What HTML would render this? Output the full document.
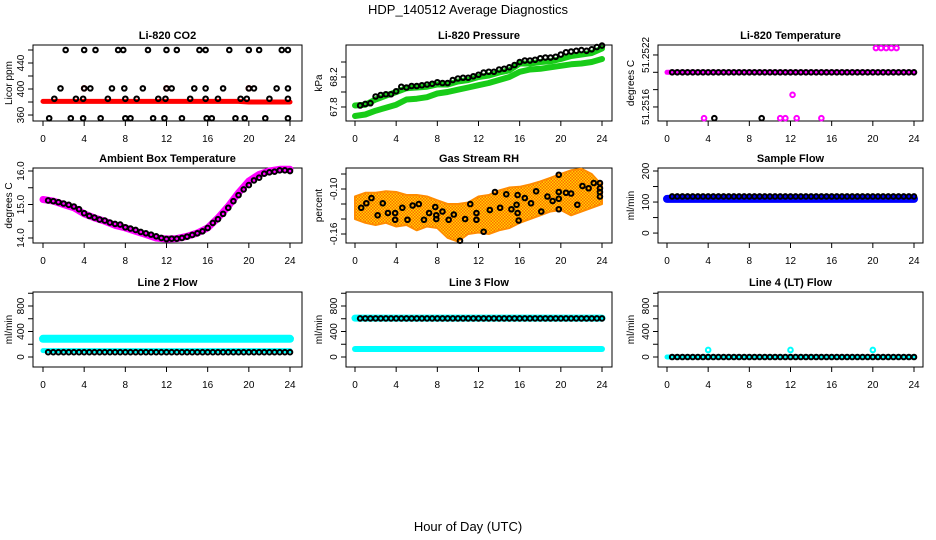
<!DOCTYPE html>
<html><head><meta charset="utf-8"><style>
html,body{margin:0;padding:0;background:#fff;}
svg{display:block;font-family:"Liberation Sans",sans-serif;}
</style></head><body>
<svg id="root" width="936" height="540" viewBox="0 0 936 540">
<defs>
<pattern id="rhpat" width="3" height="3" patternUnits="userSpaceOnUse">
<rect width="3" height="3" fill="#ffd400"/><rect width="1.5" height="1.5" fill="#ff6a00"/><rect x="1.5" y="1.5" width="1.5" height="1.5" fill="#ff6a00"/>
</pattern>
</defs>
<text x="468" y="14" text-anchor="middle" font-size="13">HDP_140512  Average Diagnostics</text>
<text x="468" y="531" text-anchor="middle" font-size="13">Hour of Day (UTC)</text>
</svg>
<script>
// ---------- data ----------
const xTicks = [0,4,8,12,16,20,24];
const halfHours = [0.5,1,1.5,2,2.5,3,3.5,4,4.5,5,5.5,6,6.5,7,7.5,8,8.5,9,9.5,10,10.5,11,11.5,12,12.5,13,13.5,14,14.5,15,15.5,16,16.5,17,17.5,18,18.5,19,19.5,20,20.5,21,21.5,22,22.5,23,23.5,24];
const hours = [0,1,2,3,4,5,6,7,8,9,10,11,12,13,14,15,16,17,18,19,20,21,22,23,24];

const co2Hours = [2.2,4,5.1,7.3,7.8,10.2,12,13,15.2,15.8,18.1,20,21,23.2,23.8, 1.7,4,4.6,6.7,7.9,9.7,12,12.5,14.7,15.8,17.5,20,20.5,22.7,23.8, 1.1,3.2,3.9,6.3,8,9.1,11.2,11.9,14.3,15.8,17,19.2,19.8,22,23.8, 0.6,2.7,3.9,5.6,8,8.5,10.7,11.8,13.5,15.9,16.4,18.7,19.6,21.6,23.8];
const co2Values = [460,460,460,460,460,460,460,460,460,460,460,460,460,460,460, 401,401,401,401,401,401,401,401,401,401,401,401,401,401,401, 385,385,385,385,385,385,385,385,385,385,385,385,385,385,385, 355,355,355,355,355,355,355,355,355,355,355,355,355,355,355];
const co2Red = [381,381,381,381,381,381,381,381,381,381,381,381,381,381,381,381,381,381,381,381,380,380,380,380,380];
const co2RedOutHours = [4,12,20];
const co2RedOutValues = [401,401,401];

const presBlack = [67.82,67.84,67.85,67.94,67.96,67.97,67.97,68.01,68.07,68.06,68.08,68.08,68.09,68.10,68.11,68.13,68.12,68.12,68.16,68.18,68.19,68.19,68.21,68.23,68.26,68.27,68.27,68.30,68.31,68.33,68.36,68.40,68.42,68.42,68.43,68.45,68.46,68.46,68.47,68.50,68.53,68.54,68.55,68.56,68.55,68.57,68.60,68.62];
const presGreenUpper = [67.82,67.83,67.90,67.95,68.00,68.05,68.06,68.07,68.10,68.10,68.14,68.16,68.20,68.22,68.26,68.29,68.38,68.38,68.40,68.41,68.44,68.48,68.50,68.52,68.58];
const presGreenLower = [67.68,67.70,67.75,67.79,67.83,67.90,67.91,67.93,67.98,68.00,68.03,68.06,68.09,68.12,68.16,68.20,68.27,68.30,68.31,68.33,68.35,68.37,68.38,68.40,68.44];

const tempBlack = [51.2520,51.2520,51.2520,51.2520,51.2520,51.2520,51.2520,51.2520,51.2520,51.2520,51.2520,51.2520,51.2520,51.2520,51.2520,51.2520,51.2520,51.2520,51.2520,51.2520,51.2520,51.2520,51.2520,51.2520,51.2520,51.2520,51.2520,51.2520,51.2520,51.2520,51.2520,51.2520,51.2520,51.2520,51.2520,51.2520,51.2520,51.2520,51.2520,51.2520,51.2520,51.2520,51.2520,51.2520,51.2520,51.2520,51.2520,51.2520];
const tempMagenta = [51.2520,51.2520,51.2520,51.2520,51.2520,51.2520,51.2520,51.2520,51.2520,51.2520,51.2520,51.2520,51.2520,51.2520,51.2520,51.2520,51.2520,51.2520,51.2520,51.2520,51.2520,51.2520,51.2520,51.2520,51.2520];
const tempMagOutHours = [3.6,11,11.5,12.2,12.6,15,20.3,20.8,21.3,21.8,22.3];
const tempMagOutValues = [51.25147,51.25147,51.25147,51.25174,51.25147,51.25147,51.25228,51.25228,51.25228,51.25228,51.25228];
const tempBlackOutHours = [4.6,9.2];
const tempBlackOutValues = [51.25147,51.25147];

const ambBand = [15.15,15.10,15.00,14.90,14.72,14.60,14.50,14.38,14.30,14.20,14.10,14.00,13.97,13.98,14.05,14.15,14.30,14.60,14.95,15.35,15.70,15.90,16.00,16.05,16.05];
const ambBlack = [15.12,15.10,15.07,15.03,14.99,14.94,14.86,14.74,14.66,14.61,14.55,14.52,14.46,14.42,14.40,14.32,14.28,14.24,14.18,14.14,14.10,14.05,14.00,13.97,13.98,13.98,14.00,14.04,14.09,14.14,14.20,14.30,14.45,14.56,14.72,14.90,15.10,15.28,15.45,15.58,15.72,15.80,15.92,15.96,15.98,16.02,16.02,16.00];

const rhUpper = [-0.110,-0.105,-0.105,-0.103,-0.104,-0.108,-0.108,-0.110,-0.115,-0.120,-0.120,-0.118,-0.110,-0.108,-0.102,-0.098,-0.097,-0.094,-0.090,-0.085,-0.080,-0.075,-0.073,-0.080,-0.095];
const rhLower = [-0.140,-0.145,-0.148,-0.145,-0.150,-0.148,-0.155,-0.150,-0.152,-0.165,-0.170,-0.160,-0.158,-0.160,-0.155,-0.152,-0.145,-0.140,-0.135,-0.130,-0.128,-0.135,-0.130,-0.125,-0.120];
const rhHours = [0.6,1.1,1.6,2.2,2.7,3.2,3.9,3.9,4.6,5.1,5.6,6.2,6.7,7.2,7.8,7.9,7.9,8.5,9.1,9.6,10.2,10.7,11.2,11.8,11.8,12.5,13.1,13.6,14.1,14.7,15.2,15.7,15.8,15.8,15.9,16.5,17.1,17.6,18.1,18.7,19.2,19.8,19.8,19.8,19.8,20.5,21.0,21.6,22.1,22.7,23.2,23.8,23.8,23.8,23.8];
const rhValues = [-0.125,-0.119,-0.112,-0.135,-0.119,-0.132,-0.132,-0.141,-0.125,-0.141,-0.122,-0.120,-0.141,-0.132,-0.124,-0.140,-0.135,-0.130,-0.141,-0.134,-0.169,-0.140,-0.120,-0.141,-0.132,-0.157,-0.128,-0.104,-0.125,-0.107,-0.127,-0.121,-0.108,-0.132,-0.142,-0.112,-0.119,-0.103,-0.130,-0.110,-0.116,-0.081,-0.104,-0.113,-0.127,-0.105,-0.106,-0.121,-0.096,-0.099,-0.092,-0.092,-0.099,-0.104,-0.110];

const sampleBlue = [110,110,110,110,110,110,110,110,110,110,110,110,110,110,110,110,110,110,110,110,110,110,110,110,110];
const sampleBlack = [118,118,118,118,118,118,118,118,118,118,118,118,118,118,118,118,118,118,118,118,118,118,118,118,118,118,118,118,118,118,118,118,118,118,118,118,118,118,118,118,118,118,118,118,118,118,118,118];

const line2CyanUpper = [285,285,285,285,285,285,285,285,285,285,285,285,285,285,285,285,285,285,285,285,285,285,285,285,285];
const line2CyanLower = [100,100,100,100,100,100,100,100,100,100,100,100,100,100,100,100,100,100,100,100,100,100,100,100,100];
const line2Black = [75,75,75,75,75,75,75,75,75,75,75,75,75,75,75,75,75,75,75,75,75,75,75,75,75,75,75,75,75,75,75,75,75,75,75,75,75,75,75,75,75,75,75,75,75,75,75,75];

const line3CyanUpper = [610,610,610,610,610,610,610,610,610,610,610,610,610,610,610,610,610,610,610,610,610,610,610,610,610];
const line3CyanLower = [125,125,125,125,125,125,125,125,125,125,125,125,125,125,125,125,125,125,125,125,125,125,125,125,125];
const line3Black = [605,605,605,605,605,605,605,605,605,605,605,605,605,605,605,605,605,605,605,605,605,605,605,605,605,605,605,605,605,605,605,605,605,605,605,605,605,605,605,605,605,605,605,605,605,605,605,605];

const line4Cyan = [0,0,0,0,0,0,0,0,0,0,0,0,0,0,0,0,0,0,0,0,0,0,0,0,0];
const line4Black = [0,0,0,0,0,0,0,0,0,0,0,0,0,0,0,0,0,0,0,0,0,0,0,0,0,0,0,0,0,0,0,0,0,0,0,0,0,0,0,0,0,0,0,0,0,0,0,0];
const line4OutHours = [4,12,20];
const line4OutValues = [110,110,110];

// ---------- drawing ----------
const NS = 'http://www.w3.org/2000/svg';
const root = document.getElementById('root');
function mk(tag, attrs, parent){
  const e = document.createElementNS(NS, tag);
  for (const k in attrs) e.setAttribute(k, attrs[k]);
  (parent||root).appendChild(e);
  return e;
}
const cols = [{x0:43, fl:33, fr:302, yl:8}, {x0:355, fl:346, fr:612, yl:318}, {x0:667, fl:658, fr:923, yl:630}];
const rows = [{ft:45, fb:121}, {ft:168, fb:243}, {ft:292, fb:367}];

function panel(name, ci, ri, title, ylab, vTop, vBot, ticks, labels){
  const c = cols[ci], r = rows[ri];
  const g = mk('g', {});
  
  
  const sx = h => c.x0 + h * 247 / 24;
  const sy = v => r.ft + (vTop - v) / (vTop - vBot) * (r.fb - r.ft);
  const t = mk('text', {x:(c.fl+c.fr)/2, y:r.ft-6, 'text-anchor':'middle', 'font-size':11, 'font-weight':'bold'}, g);
  t.textContent = title;
  
  
  const yl = mk('text', {x:0, y:0, 'text-anchor':'middle', 'font-size':10, transform:`translate(${c.yl+4},${(r.ft+r.fb)/2}) rotate(-90)`}, g);
  yl.textContent = ylab;
  
  
  const frame = mk('rect', {x:c.fl, y:r.ft, width:c.fr-c.fl, height:r.fb-r.ft, fill:'none', stroke:'#000', 'stroke-width':1}, g);
  
  
  const xa = mk('g', {}, g);
  
  
  mk('line', {x1:sx(0), x2:sx(24), y1:r.fb, y2:r.fb, stroke:'#000'}, xa);
  xTicks.forEach(h => {
    mk('line', {x1:sx(h), x2:sx(h), y1:r.fb, y2:r.fb+5, stroke:'#000'}, xa);
    const tl = mk('text', {x:sx(h), y:r.fb+21, 'text-anchor':'middle', 'font-size':10}, xa);
    tl.textContent = h;
  });
  const ya = mk('g', {}, g);
  
  
  mk('line', {x1:c.fl, x2:c.fl, y1:sy(ticks[0]), y2:sy(ticks[ticks.length-1]), stroke:'#000'}, ya);
  ticks.forEach((v,i) => {
    mk('line', {x1:c.fl-5, x2:c.fl, y1:sy(v), y2:sy(v), stroke:'#000'}, ya);
    if (labels[i] !== '') {
      const tl = mk('text', {x:0, y:0, 'text-anchor':'middle', 'font-size':10, transform:`translate(${c.fl-9},${sy(v)}) rotate(-90)`}, ya);
      tl.textContent = labels[i];
    }
  });
  const data = mk('g', {}, g);
  
  
  return {sx, sy, g:data};
}
function band(p, xs, vs, color, w, name){
  const pts = xs.map((h,i) => p.sx(h).toFixed(1) + ',' + p.sy(vs[i]).toFixed(1)).join(' ');
  const pl = mk('polyline', {points:pts, fill:'none', stroke:color, 'stroke-width':w, 'stroke-linejoin':'round', 'stroke-linecap':'round'}, p.g);
  
  
}
function dots(p, xs, vs, color, name, r){
  xs.forEach((h,i) => {
    const c = mk('circle', {cx:p.sx(h), cy:p.sy(vs[i]), r:r||2.3, fill:'none', stroke:color, 'stroke-width':2}, p.g);
    
    
  });
}

// CO2
let p = panel('co2', 0, 0, 'Li-820 CO2', 'Licor ppm', 467.7, 350.8, [360,380,400,420,440,460], ['360','','400','','440','']);
band(p, hours, co2Red, '#ff0000', 5, 'co2-red-band');
dots(p, co2RedOutHours, co2RedOutValues, '#ff0000', 'co2-red-point');
dots(p, co2Hours, co2Values, '#000', 'co2-point');

// Pressure
p = panel('pressure', 1, 0, 'Li-820 Pressure', 'kPa', 68.627, 67.613, [67.8,68.0,68.2,68.4], ['67.8','','68.2','']);
band(p, hours, presGreenLower, '#18cc18', 6, 'pressure-green-lower');
band(p, hours, presGreenUpper, '#18cc18', 6, 'pressure-green-upper');
dots(p, halfHours, presBlack, '#000', 'pressure-point');

// Temperature
p = panel('temperature', 2, 0, 'Li-820 Temperature', 'degrees C', 51.252315, 51.251438, [51.2516,51.2518,51.2520,51.2522], ['51.2516','','','51.2522']);
band(p, hours, tempMagenta, '#ff00ff', 5, 'temperature-magenta-band');
dots(p, halfHours, tempBlack, '#000', 'temperature-point');
dots(p, tempMagOutHours, tempMagOutValues, '#ff00ff', 'temperature-magenta-outlier');
dots(p, tempBlackOutHours, tempBlackOutValues, '#000', 'temperature-black-outlier');

// Ambient
p = panel('ambient', 0, 1, 'Ambient Box Temperature', 'degrees C', 16.09, 13.85, [14.0,14.5,15.0,15.5,16.0], ['14.0','','15.0','','16.0']);
band(p, hours, ambBand, '#ff00ff', 7, 'ambient-magenta-band');
dots(p, halfHours, ambBlack, '#000', 'ambient-point');

// RH
p = panel('rh', 1, 1, 'Gas Stream RH', 'percent', -0.072, -0.172, [-0.16,-0.14,-0.12,-0.10,-0.08], ['-0.16','','','-0.10','']);
{
  const up = hours.map((h,i) => p.sx(h).toFixed(1)+','+p.sy(rhUpper[i]).toFixed(1));
  const lo = hours.map((h,i) => p.sx(h).toFixed(1)+','+p.sy(rhLower[i]).toFixed(1)).reverse();
  const poly = mk('polygon', {points:up.concat(lo).join(' '), fill:'url(#rhpat)', stroke:'#ff8c00', 'stroke-width':2, 'stroke-linejoin':'round'}, p.g);
  
  
}
dots(p, rhHours, rhValues, '#000', 'rh-point');

// Sample flow
p = panel('sample-flow', 2, 1, 'Sample Flow', 'ml/min', 209.7, -32, [0,50,100,150,200], ['0','','100','','200']);
band(p, hours, sampleBlue, '#0000ff', 8, 'sample-flow-blue-band');
dots(p, halfHours, sampleBlack, '#000', 'sample-flow-point');

// Line 2
p = panel('line2-flow', 0, 2, 'Line 2 Flow', 'ml/min', 1019.6, -156.9, [0,200,400,600,800,1000], ['0','','400','','800','']);
band(p, hours, line2CyanUpper, '#00ffff', 8, 'line2-cyan-upper');
band(p, hours, line2CyanLower, '#00ffff', 5, 'line2-cyan-lower');
dots(p, halfHours, line2Black, '#000', 'line2-point');

// Line 3
p = panel('line3-flow', 1, 2, 'Line 3 Flow', 'ml/min', 1019.6, -156.9, [0,200,400,600,800,1000], ['0','','400','','800','']);
band(p, hours, line3CyanUpper, '#00ffff', 7, 'line3-cyan-upper');
band(p, hours, line3CyanLower, '#00ffff', 6, 'line3-cyan-lower');
dots(p, halfHours, line3Black, '#000', 'line3-point');

// Line 4
p = panel('line4-flow', 2, 2, 'Line 4 (LT) Flow', 'ml/min', 1019.6, -156.9, [0,200,400,600,800,1000], ['0','','400','','800','']);
band(p, hours, line4Cyan, '#00ffff', 5, 'line4-cyan-band');
dots(p, halfHours, line4Black, '#000', 'line4-point');
dots(p, line4OutHours, line4OutValues, '#00ffff', 'line4-cyan-outlier');
</script>
</body></html>
